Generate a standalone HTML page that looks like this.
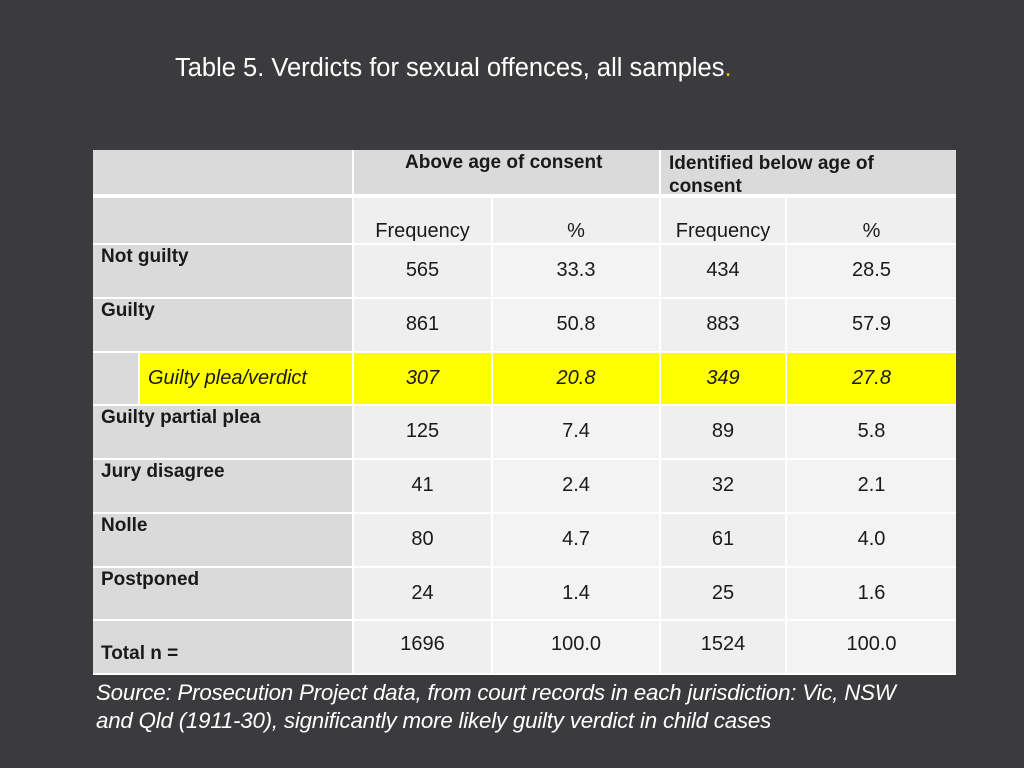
<!DOCTYPE html>
<html><head><meta charset="utf-8"><style>
body{margin:0;width:1024px;height:768px;background:#3b3b3d;position:relative;overflow:hidden;font-family:"Liberation Sans Narrow","Liberation Sans",sans-serif;}
.c{position:absolute;box-sizing:border-box;color:#1a1a1a;}
.t{position:absolute;white-space:nowrap;}
</style></head><body>
<div class="t" style="left:175px;top:54px;font-size:25.5px;color:#fff;font-family:'Liberation Sans',sans-serif;">Table 5. Verdicts for sexual offences, all samples<span style="color:#e6c000">.</span></div>
<div style="position:absolute;left:93px;top:150px;width:863px;height:525px;background:#fff;"></div>
<div id="tbl"></div>
<div class="t" style="left:96px;top:679px;font-size:22.3px;font-style:italic;color:#fff;line-height:28px;font-family:'Liberation Sans',sans-serif;letter-spacing:-0.2px;">Source: Prosecution Project data, from court records in each jurisdiction: Vic, NSW<br>and Qld (1911-30), significantly more likely guilty verdict in child cases</div>
<script>
const rowLabels=["Not guilty","Guilty","Guilty plea/verdict","Guilty partial plea","Jury disagree","Nolle","Postponed","Total n ="];
const aboveFreq=["565","861","307","125","41","80","24","1696"];
const abovePct=["33.3","50.8","20.8","7.4","2.4","4.7","1.4","100.0"];
const belowFreq=["434","883","349","89","32","61","25","1524"];
const belowPct=["28.5","57.9","27.8","5.8","2.1","4.0","1.6","100.0"];
const X=[93,354,493,661,787,956];
const Y=[150,198,245,299,353,406,460,514,568,621,675];
const T=document.getElementById('tbl');
function cell(x,y,w,h,bg,name){const d=document.createElement('div');d.className='c';


d.style.cssText=`left:${x}px;top:${y}px;width:${w}px;height:${h}px;background:${bg}`;T.appendChild(d);return d;}
function txt(d,s,css){const e=document.createElement('div');e.className='t';e.textContent=s;e.style.cssText=css;d.appendChild(e);return e;}
let h=cell(X[0],Y[0],X[1]-X[0]-2,Y[1]-Y[0]-4,'#dadada','header-blank');
h=cell(X[1],Y[0],X[3]-X[1]-2,Y[1]-Y[0]-4,'#dadada','header-above-age');
txt(h,'Above age of consent','left:51px;top:2px;font-weight:bold;font-size:19px;');
h=cell(X[3],Y[0],X[5]-X[3],Y[1]-Y[0]-4,'#dadada','header-below-age');
txt(h,'Identified below age of','left:8px;top:3px;font-weight:bold;font-size:19px;');
txt(h,'consent','left:8px;top:26px;font-weight:bold;font-size:19px;');
cell(X[0],Y[1],X[1]-X[0]-2,Y[2]-Y[1]-2,'#dadada','subheader-blank');
const subs=['Frequency','%','Frequency','%'];
for(let i=0;i<4;i++){const d=cell(X[i+1],Y[1],X[i+2]-X[i+1]-(i<3?2:0),Y[2]-Y[1]-2,'#efefef','subheader-'+i);
txt(d,subs[i],`left:0;right:0;top:22px;text-align:center;font-size:20px;`);}
const cols=[aboveFreq,abovePct,belowFreq,belowPct];
for(let r=0;r<rowLabels.length;r++){
 const y=Y[r+2],hh=Y[r+3]-y-2,hi=r===2;
 if(hi){cell(X[0],y,45,hh,'#dadada','row-indent');
  const l=cell(X[0]+47,y,X[1]-X[0]-49,hh,'#ffff00','row-label');
  txt(l,rowLabels[r],'left:8px;top:14px;font-size:20px;font-style:italic;');}
 else{const l=cell(X[0],y,X[1]-X[0]-2,hh,'#dadada','row-label');
  txt(l,rowLabels[r],`left:8px;top:${r===7?22:1}px;font-weight:bold;font-size:19px;`);}
 for(let c=0;c<4;c++){
  const bg=hi?'#ffff00':(c%2===0?'#efefef':'#f3f3f3');
  const d=cell(X[c+1],y,X[c+2]-X[c+1]-(c<3?2:0),hh,bg,'value-cell');
  txt(d,cols[c][r],`left:0;right:0;top:${r===7?12:14}px;text-align:center;font-size:20px;${hi?'font-style:italic;':''}`);
 }
}
</script>
</body></html>
